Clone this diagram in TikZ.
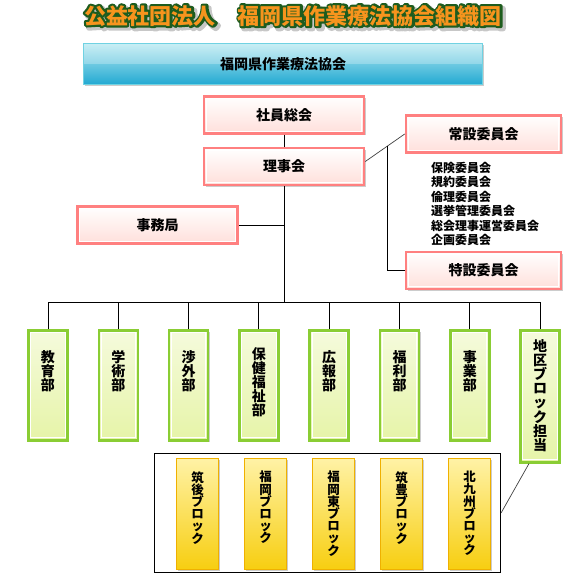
\documentclass[tikz,border=0pt]{standalone}
\usepackage{fontspec}
\setmainfont{Noto Sans CJK JP}
\usetikzlibrary{positioning,calc,shadows}
\definecolor{pinkline}{HTML}{FF8080}
\definecolor{pinkfill}{HTML}{FFDFDA}
\definecolor{greenline}{HTML}{8ACD34}
\definecolor{greenfill}{HTML}{E6F4A8}
\definecolor{goldline}{HTML}{EFB000}
\definecolor{goldtop}{HTML}{FFF2A6}
\definecolor{goldbot}{HTML}{F7CE10}
\definecolor{skyline}{HTML}{70D2E2}
\definecolor{skytop}{HTML}{B6E9F1}
\definecolor{skybot}{HTML}{22A9D2}
\definecolor{titleor}{HTML}{F7941D}
\definecolor{titlegr}{HTML}{1E5C1E}
% stroked (outlined) text through the pdf text render mode
\newcommand\strokedtext[2]{\special{pdf:literal direct 1 j #1 w 2 Tr}#2%
  \special{pdf:literal direct 0 Tr 0 j 0.4 w}}
\newcommand\titletext{公益社団法人　福岡県作業療法協会組織図}
% shadow, green edge and orange face stacked in one box
\newcommand\fancytitle{%
  \rlap{\hspace{2.5pt}\raisebox{-2.5pt}{\color{black!22}\strokedtext{5.5}{\titletext}}}%
  \rlap{\color{titlegr}\strokedtext{4.2}{\titletext}}%
  {\color{titleor}\titletext}}
\tikzset{
  inline/.style={path picture={\draw[white, line width=1pt]
      ([shift={(2.4pt,2.4pt)}]path picture bounding box.south west) rectangle
      ([shift={(-2.4pt,-2.4pt)}]path picture bounding box.north east);}},
  softshadow/.style={drop shadow={shadow xshift=1.5pt, shadow yshift=-1.5pt,
      opacity=0.2, fill=black}},
  titlefont/.style={font=\bfseries\fontsize{22}{24}\selectfont, inner sep=0pt},
  orgbox/.style={draw=pinkline, line width=2.6pt, top color=white,
      bottom color=pinkfill, inline, softshadow, inner sep=0pt,
      minimum width=160pt, minimum height=37pt,
      font=\bfseries\fontsize{14}{16}\selectfont},
  deptbox/.style={draw=greenline, line width=2.6pt, top color=white!60!greenfill,
      bottom color=greenfill, inline, softshadow, inner sep=0pt,
      minimum width=39pt, minimum height=110pt, anchor=north},
  blockbox/.style={draw=goldline, line width=1.1pt, top color=goldtop,
      bottom color=goldbot, softshadow, inner sep=0pt,
      minimum width=42pt, minimum height=111pt, anchor=north},
  vlabel/.style={align=center, inner sep=0pt, anchor=north,
      font=\bfseries\fontsize{14}{14.2}\selectfont},
  blabel/.style={align=center, inner sep=0pt, anchor=north,
      font=\bfseries\fontsize{12.5}{12.2}\selectfont},
  link/.style={draw=black, line width=0.9pt},
  slant/.style={draw=black!75, line width=0.7pt},
}

\begin{document}
\begin{tikzpicture}[x=1pt, y=-1pt]
\useasboundingbox (0,0) rectangle (580,582);

% title
\node[titlefont] (title) at (293,17) {\fancytitle};

% association banner
\node[draw=skyline, line width=1.6pt, top color=skytop, bottom color=skybot,
      softshadow, minimum width=399pt, minimum height=41pt, inner sep=0pt,
      path picture={\fill[white, opacity=0.25]
        (path picture bounding box.north west) rectangle
        (path picture bounding box.east);},
      font=\bfseries\fontsize{14}{16}\selectfont] (assoc) at (283,64) {福岡県作業療法協会};

% governing bodies
\node[orgbox] (soukai) at (284,115) {社員総会};
\node[orgbox] (riji) at (284,166.5) {理事会};
\node[orgbox] (jimu) at (157.5,225) {事務局};
\node[orgbox, minimum width=155pt] (josetsu) at (483.5,134) {常設委員会};
\node[orgbox, minimum width=155pt] (tokusetsu) at (483.5,270.5) {特設委員会};
\node[anchor=north west, align=left, inner sep=0pt,
      font=\bfseries\fontsize{12}{14.4}\selectfont] (iinlist) at (431,162)
  {保険委員会\\規約委員会\\倫理委員会\\選挙管理委員会\\総会理事運営委員会\\企画委員会};

\draw[link] (soukai) -- (riji);
\coordinate (bus) at (0,302);
\draw[link] (riji.south) -- (riji.south |- bus);
\draw[link] (jimu.east) -- (jimu.east -| riji.south);
\draw[slant] ([yshift=5pt]riji.east) -- (josetsu.west);
\coordinate (jbranch) at ($([yshift=5pt]riji.east)!0.55!(josetsu.west)$);
\draw[link] (jbranch) |- (tokusetsu.west);

% departments
\draw[link] (48,302) -- (540,302);
\foreach \name/\lab/\pad [count=\i] in {
    kyoiku/{教\\育\\部}/21, gakujutsu/{学\\術\\部}/21, shogai/{渉\\外\\部}/21,
    hoken/{保\\健\\福\\祉\\部}/18, koho/{広\\報\\部}/21, fukuri/{福\\利\\部}/21,
    jigyo/{事\\業\\部}/21} {
  \pgfmathsetmacro\xx{48+(\i-1)*70.3}
  \node[deptbox] (\name) at (\xx,329) {};
  \node[vlabel] (\name-t) at ([yshift=-\pad pt]\name.north) {\lab};
  \draw[link] (\name.north) -- (\name.north |- bus);
}
\node[deptbox, minimum height=132pt] (chiku) at (540,329) {};
\node[vlabel] (chiku-t) at ([yshift=-10pt]chiku.north) {地\\区\\ブ\\ロ\\ッ\\ク\\担\\当};
\draw[link] (chiku.north) -- (chiku.north |- bus);

% regional blocks
\node[draw=black, line width=1.1pt, minimum width=346pt, minimum height=119pt,
      inner sep=0pt] (blocks) at (327.5,513) {};
\foreach \name/\lab [count=\i] in {
    chikugo/{筑\\後\\ブ\\ロ\\ッ\\ク}, fukuoka/{福\\岡\\ブ\\ロ\\ッ\\ク},
    fukuokahigashi/{福\\岡\\東\\ブ\\ロ\\ッ\\ク}, chikuho/{筑\\豊\\ブ\\ロ\\ッ\\ク},
    kitakyushu/{北\\九\\州\\ブ\\ロ\\ッ\\ク}} {
  \pgfmathsetmacro\xx{197.5+(\i-1)*68}
  \node[blockbox] (\name) at (\xx,458) {};
  \node[blabel] (\name-t) at ([yshift=-13pt]\name.north) {\lab};
}
\draw[slant] (blocks.east) -- ([xshift=-11pt]chiku.south);
\end{tikzpicture}
\end{document}
